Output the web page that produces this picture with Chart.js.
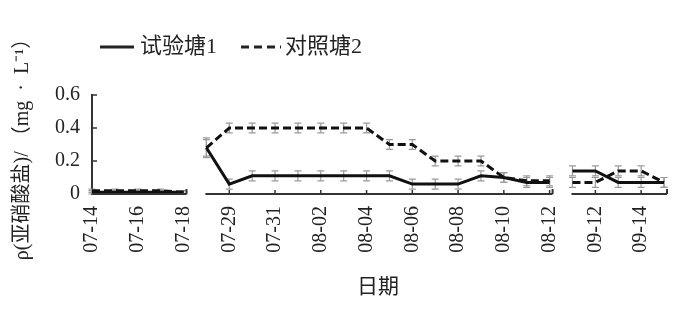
<!DOCTYPE html>
<html>
<head>
<meta charset="utf-8">
<script src="https://cdn.jsdelivr.net/npm/chart.js@4/dist/chart.umd.min.js"></script>
<style>
  html, body { margin: 0; padding: 0; background: #ffffff; }
  #wrap { width: 700px; height: 310px; position: relative; }
</style>
</head>
<body>
<div id="wrap"><canvas id="c" width="700" height="310"></canvas></div>
<script>
// ---- data ----
const dates = ['07-14','07-15','07-16','07-17','07-18',
  '07-28','07-29','07-30','07-31','08-01','08-02','08-03','08-04','08-05','08-06','08-07','08-08','08-09','08-10','08-11','08-12',
  '09-11','09-12','09-13','09-14','09-15'];
const seriesNames = ['试验塘1', '对照塘2'];
const pond1 = [0.01,0.01,0.01,0.01,0.01,
  0.28,0.06,0.11,0.11,0.11,0.11,0.11,0.11,0.11,0.06,0.06,0.06,0.11,0.10,0.07,0.07,
  0.14,0.14,0.07,0.07,0.07];
const pond2 = [0.02,0.02,0.02,0.02,0.01,
  0.28,0.40,0.40,0.40,0.40,0.40,0.40,0.40,0.30,0.30,0.20,0.20,0.20,0.10,0.08,0.08,
  0.07,0.07,0.14,0.14,0.07];
const pond1Err = [0.01,0.01,0.01,0.01,0.01,
  0.06,0.03,0.03,0.03,0.03,0.03,0.03,0.03,0.03,0.03,0.03,0.03,0.03,0.03,0.03,0.03,
  0.03,0.03,0.03,0.03,0.03];
const pond2Err = [0.01,0.01,0.01,0.01,0.01,
  0.05,0.03,0.03,0.03,0.03,0.03,0.03,0.03,0.03,0.03,0.03,0.03,0.03,0.03,0.03,0.03,
  0.03,0.03,0.03,0.03,0.03];
const panelBreaks = [4, 20];          // a new panel starts after these indices
const yTicks = [0, 0.2, 0.4, 0.6];

const FONT = '"Liberation Serif", "Noto Sans CJK SC", serif';
const breakSeg = ctx => panelBreaks.includes(ctx.p0DataIndex) ? 'rgba(0,0,0,0)' : undefined;

// error bars drawn through the scales
const errorBars = {
  id: 'errorBars',
  beforeDatasetsDraw(chart) {
    const {ctx, scales: {x, y}} = chart;
    const sets = [[pond1, pond1Err], [pond2, pond2Err]];
    ctx.save();
    ctx.strokeStyle = '#9a9a9a';
    ctx.lineWidth = 1.2;
    sets.forEach(([vals, errs]) => {
      vals.forEach((v, i) => {
        const px = x.getPixelForValue(i);
        const top = y.getPixelForValue(v + errs[i]);
        const bot = y.getPixelForValue(Math.max(0, v - errs[i]));
        ctx.beginPath();
        ctx.moveTo(px, top); ctx.lineTo(px, bot);
        ctx.moveTo(px - 3.5, top); ctx.lineTo(px + 3.5, top);
        ctx.moveTo(px - 3.5, bot); ctx.lineTo(px + 3.5, bot);
        ctx.stroke();
      });
    });
    ctx.restore();
  }
};

// broken x axis, tick marks and legend
const axesAndLegend = {
  id: 'axesAndLegend',
  afterDraw(chart) {
    const {ctx, scales: {x, y}, chartArea} = chart;
    const yb = y.getPixelForValue(0);
    ctx.save();
    ctx.strokeStyle = '#333';
    ctx.lineWidth = 2;
    const segs = [[0, 4], [5, 20], [21, 25]];
    segs.forEach(([a, b], k) => {
      const xa = k === 0 ? chartArea.left : x.getPixelForValue(a) - 1;
      const xb = x.getPixelForValue(b) + 3;
      ctx.beginPath();
      ctx.moveTo(xa, yb); ctx.lineTo(xb, yb);
      ctx.moveTo(xb, yb); ctx.lineTo(xb, yb - 5);
      ctx.stroke();
    });
    ctx.lineWidth = 1.5;
    for (let i = 6; i < dates.length; i += 2) {
      const px = x.getPixelForValue(i);
      ctx.beginPath(); ctx.moveTo(px, yb); ctx.lineTo(px, yb - 4); ctx.stroke();
    }
    yTicks.slice(1).forEach(t => {
      const py = y.getPixelForValue(t);
      ctx.beginPath(); ctx.moveTo(chartArea.left, py); ctx.lineTo(chartArea.left + 5, py); ctx.stroke();
    });
    // legend
    const ly = 47;
    ctx.strokeStyle = '#222';
    ctx.lineWidth = 3;
    ctx.beginPath(); ctx.moveTo(100, ly); ctx.lineTo(134, ly); ctx.stroke();
    ctx.setLineDash([8, 5]);
    ctx.beginPath(); ctx.moveTo(241, ly); ctx.lineTo(281, ly); ctx.stroke();
    ctx.setLineDash([]);
    ctx.fillStyle = '#222';
    ctx.font = '22px ' + FONT;
    ctx.textBaseline = 'middle';
    ctx.textAlign = 'left';
    ctx.fillText(seriesNames[0], 140, ly);
    ctx.fillText(seriesNames[1], 285, ly);
    ctx.restore();
  }
};

new Chart(document.getElementById('c'), {
  type: 'line',
  data: {
    labels: dates,
    datasets: [
      { label: seriesNames[0], data: pond1, borderColor: '#111', borderWidth: 3,
        pointRadius: 0, tension: 0, segment: { borderColor: breakSeg } },
      { label: seriesNames[1], data: pond2, borderColor: '#111', borderWidth: 3,
        borderDash: [8, 4], pointRadius: 0, tension: 0, segment: { borderColor: breakSeg } }
    ]
  },
  options: {
    responsive: false,
    animation: false,
    layout: { padding: { top: 95, right: 25, left: 0, bottom: 0 } },
    plugins: { legend: { display: false }, tooltip: { enabled: false } },
    scales: {
      x: {
        type: 'category',
        offset: false,
        grid: { display: false, drawTicks: false },
        border: { display: false },
        afterFit: s => { s.height = 116; },
        ticks: {
          autoSkip: false, maxRotation: 90, minRotation: 90, padding: 12,
          color: '#222', font: { family: FONT, size: 20 },
          callback: (v, i) => (i % 2 === 0 ? dates[i] : '')
        },
        title: { display: true, text: '日期', color: '#222',
          font: { family: FONT, size: 21 }, padding: { top: 0, bottom: 10 } }
      },
      y: {
        min: 0, max: 0.6,
        afterFit: s => { s.width = 92; },
        afterBuildTicks: s => { s.ticks = yTicks.map(v => ({ value: v })); },
        grid: { display: false, drawTicks: false },
        border: { display: true, color: '#333', width: 2 },
        ticks: { padding: 12, color: '#222', font: { family: FONT, size: 20 },
          callback: v => String(v) },
        title: { display: true, text: 'ρ(亚硝酸盐)/ （mg  ·  L⁻¹）', color: '#222',
          font: { family: FONT, size: 20 }, padding: { top: 11, bottom: 0 } }
      }
    }
  },
  plugins: [errorBars, axesAndLegend]
});
</script>
</body>
</html>
